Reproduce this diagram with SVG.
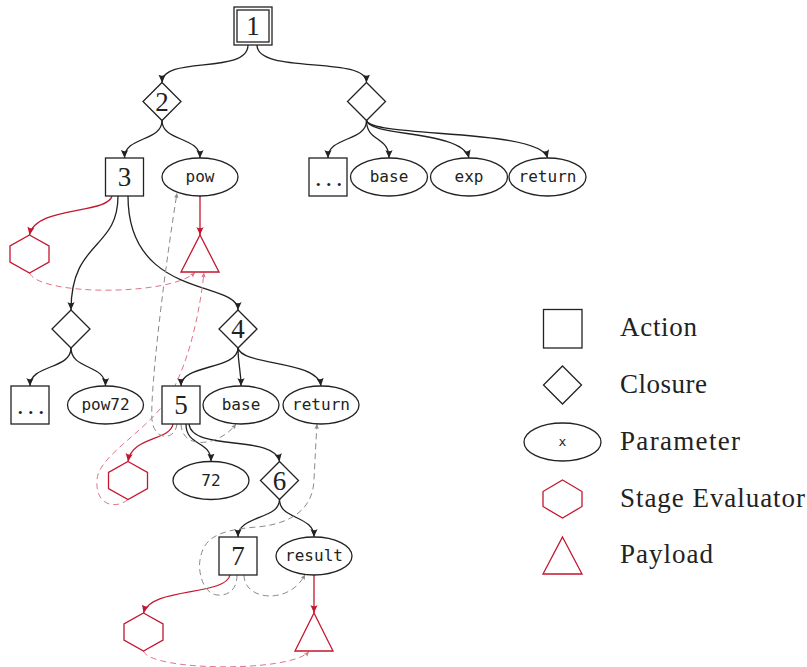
<svg xmlns="http://www.w3.org/2000/svg" width="807" height="667" viewBox="0 0 807 667">
<defs>
<style>
.nd{fill:#fff;stroke:#222;stroke-width:1.3}
.rd{fill:#fff;stroke:#c4162f;stroke-width:1.3}
.e{fill:none;stroke:#222;stroke-width:1.3}
.er{fill:none;stroke:#c4162f;stroke-width:1.3}
.dg{fill:none;stroke:#8a8a8a;stroke-width:1;stroke-dasharray:6 4}
.dr{fill:none;stroke:#e07585;stroke-width:1;stroke-dasharray:6 4}
.num{font-family:"Liberation Serif","DejaVu Serif",serif;font-size:27px;fill:#222;text-anchor:middle}
.dots{font-family:"Liberation Serif","DejaVu Serif",serif;font-size:26px;fill:#222;letter-spacing:4px}
.mono{font-family:"DejaVu Sans Mono","Liberation Mono",monospace;font-size:16px;fill:#222;text-anchor:middle}
.lg{font-family:"Liberation Serif","DejaVu Serif",serif;font-size:27px;fill:#222}
</style>
<marker id="ab" viewBox="0 0 10 10" refX="10" refY="5" markerWidth="8" markerHeight="8" markerUnits="userSpaceOnUse" orient="auto"><path d="M0,0.5 L10,5 L0,9.5 Q3,5 0,0.5 Z" fill="#222"/></marker>
<marker id="ar" viewBox="0 0 10 10" refX="10" refY="5" markerWidth="8" markerHeight="8" markerUnits="userSpaceOnUse" orient="auto"><path d="M0,0.5 L10,5 L0,9.5 Q3,5 0,0.5 Z" fill="#c4162f"/></marker>
<marker id="ag" viewBox="0 0 10 10" refX="10" refY="5" markerWidth="5" markerHeight="5" markerUnits="userSpaceOnUse" orient="auto"><path d="M0,0.5 L10,5 L0,9.5 Q3,5 0,0.5 Z" fill="#8a8a8a"/></marker>
<marker id="ap" viewBox="0 0 10 10" refX="10" refY="5" markerWidth="5" markerHeight="5" markerUnits="userSpaceOnUse" orient="auto"><path d="M0,0.5 L10,5 L0,9.5 Q3,5 0,0.5 Z" fill="#e07585"/></marker>
</defs>
<rect width="807" height="667" fill="#fff"/>

<g id="connectors">
<path class="e" marker-end="url(#ab)" d="M248,45 C248,75 162,55 162,82.5"/>
<path class="e" marker-end="url(#ab)" d="M257,45 C257,75 366.5,55 366.5,82.5"/>
<path class="e" marker-end="url(#ab)" d="M162,120.5 C162,142 124.5,136 124.5,158"/>
<path class="e" marker-end="url(#ab)" d="M162,120.5 C162,142 200,136 200,158"/>
<path class="e" marker-end="url(#ab)" d="M366.5,120.5 C366.5,142 328,136 328,158"/>
<path class="e" marker-end="url(#ab)" d="M366.5,120.5 C366.5,142 389,136 389,158"/>
<path class="e" marker-end="url(#ab)" d="M366.5,120.5 C370,137 462,130 469,158"/>
<path class="e" marker-end="url(#ab)" d="M366.5,120.5 C372,138 540,128 547.5,158"/>
<path class="e" marker-end="url(#ab)" d="M118,196 C118,250 71,240 71,310"/>
<path class="e" marker-end="url(#ab)" d="M128,196 C128,300 238,280 238,310"/>
<path class="er" marker-end="url(#ar)" d="M112,196 C108,214 35,206 29.5,235"/>
<path class="er" marker-end="url(#ar)" d="M200,196 L200,235"/>
<path class="e" marker-end="url(#ab)" d="M71,348 C71,370 30,364 30,386"/>
<path class="e" marker-end="url(#ab)" d="M71,348 C71,370 105.5,364 105.5,386"/>
<path class="e" marker-end="url(#ab)" d="M238,348 C238,370 181,364 181,386"/>
<path class="e" marker-end="url(#ab)" d="M238,348 C238,365 241,370 241,386"/>
<path class="e" marker-end="url(#ab)" d="M238,348 C242,366 318,360 321,386"/>
<path class="er" marker-end="url(#ar)" d="M173,424 C170,441 132,436 128,461.5"/>
<path class="e" marker-end="url(#ab)" d="M186,424 C186,447 211,440 211,461.5"/>
<path class="e" marker-end="url(#ab)" d="M189,424 C192,452 275,434 279.5,461.5"/>
<path class="e" marker-end="url(#ab)" d="M279.5,499.5 C279.5,520 238,515 238,537"/>
<path class="e" marker-end="url(#ab)" d="M279.5,499.5 C279.5,520 314,515 314,537"/>
<path class="er" marker-end="url(#ar)" d="M230,575 C226,596 150,587 143.5,613"/>
<path class="er" marker-end="url(#ar)" d="M314,575 L314,613"/>
<path class="dr" marker-end="url(#ap)" d="M29.5,273 C40,296 170,296 195,272.5"/>
<path class="dr" marker-end="url(#ap)" d="M128,499.5 C115,510 95,505 97,480 C98,455 150,430 170,395 C190,360 200,310 204,272.5"/>
<path class="dg" marker-end="url(#ag)" d="M177,424 C175,441 154,441 152,420 C150,400 160,300 177,193"/>
<path class="dg" marker-end="url(#ag)" d="M181,424 C182,451 220,446 236,424"/>
<path class="dg" marker-end="url(#ag)" d="M237,575 C237,590 228,596 217,595 C202,593 198,570 200,560 C203,540 215,530 257,527 C290,524 313,510 314,480 C315,460 316,440 317,424"/>
<path class="dg" marker-end="url(#ag)" d="M244,575 C244,601 290,605 305,574.5"/>
<path class="dr" marker-end="url(#ap)" d="M143.5,651 C150,671 290,673 309,651.5"/>
</g>

<g id="n1"><rect class="nd" x="234" y="7" width="38" height="38"/><rect class="nd" x="237" y="10" width="32" height="32"/><text class="num" x="253" y="35">1</text></g>
<g id="n2"><polygon class="nd" points="162,82.5 181,101.5 162,120.5 143,101.5"/><text class="num" x="162" y="110.5">2</text></g>
<g id="closureR"><polygon class="nd" points="366.5,82.5 385.5,101.5 366.5,120.5 347.5,101.5"/></g>
<g id="n3"><rect class="nd" x="105.5" y="158" width="38" height="38"/><text class="num" x="124.5" y="186">3</text></g>
<g id="pow"><ellipse class="nd" cx="200" cy="177" rx="38" ry="19"/><text class="mono" x="200" y="182">pow</text></g>
<g id="dotsR"><rect class="nd" x="309" y="158" width="38" height="38"/><text class="dots" x="315" y="186">...</text></g>
<g id="baseR"><ellipse class="nd" cx="389" cy="177" rx="38.5" ry="19"/><text class="mono" x="389" y="182">base</text></g>
<g id="expR"><ellipse class="nd" cx="469" cy="177" rx="38.5" ry="19"/><text class="mono" x="469" y="182">exp</text></g>
<g id="returnR"><ellipse class="nd" cx="547.5" cy="177" rx="38.5" ry="19"/><text class="mono" x="547.5" y="182">return</text></g>
<g id="evalL"><polygon class="rd" points="29.5,235 49,246 49,262 29.5,273 10,262 10,246"/></g>
<g id="payPow"><polygon class="rd" points="200,235 219,272 181,272"/></g>
<g id="closureL"><polygon class="nd" points="71,310 90,329 71,348 52,329"/></g>
<g id="n4"><polygon class="nd" points="238,310 257,329 238,348 219,329"/><text class="num" x="238" y="338">4</text></g>
<g id="dotsL"><rect class="nd" x="11" y="386" width="38" height="38"/><text class="dots" x="17" y="414">...</text></g>
<g id="pow72"><ellipse class="nd" cx="105.5" cy="405" rx="38" ry="19"/><text class="mono" x="105.5" y="410">pow72</text></g>
<g id="n5"><rect class="nd" x="162" y="386" width="38" height="38"/><text class="num" x="181" y="414">5</text></g>
<g id="base2"><ellipse class="nd" cx="241" cy="405" rx="38" ry="19"/><text class="mono" x="241" y="410">base</text></g>
<g id="return2"><ellipse class="nd" cx="321" cy="405" rx="38" ry="19"/><text class="mono" x="321" y="410">return</text></g>
<g id="eval5"><polygon class="rd" points="128,461.5 147.5,472.5 147.5,488.5 128,499.5 108.5,488.5 108.5,472.5"/></g>
<g id="p72"><ellipse class="nd" cx="211" cy="480.5" rx="38" ry="19"/><text class="mono" x="211" y="485.5">72</text></g>
<g id="n6"><polygon class="nd" points="279.5,461.5 298.5,480.5 279.5,499.5 260.5,480.5"/><text class="num" x="279.5" y="489.5">6</text></g>
<g id="n7"><rect class="nd" x="219" y="537" width="38" height="38"/><text class="num" x="238" y="565">7</text></g>
<g id="result"><ellipse class="nd" cx="314" cy="556" rx="38" ry="19"/><text class="mono" x="314" y="561">result</text></g>
<g id="eval7"><polygon class="rd" points="143.5,613 163,624 163,640 143.5,651 124,640 124,624"/></g>
<g id="pay7"><polygon class="rd" points="314,613 333,651 295,651"/></g>

<g id="legend">
<rect class="nd" x="543.5" y="309.5" width="38.5" height="38.5"/>
<text class="lg" x="620" y="336" textLength="77">Action</text>
<polygon class="nd" points="562.5,366 581.5,385 562.5,404 543.5,385"/>
<text class="lg" x="620" y="393" textLength="87">Closure</text>
<ellipse class="nd" cx="562.5" cy="442" rx="38.5" ry="19"/>
<text class="mono" x="562.5" y="446" style="font-size:13px">x</text>
<text class="lg" x="620" y="450" textLength="120">Parameter</text>
<polygon class="rd" points="562.5,480 582,491.5 582,506.5 562.5,518 543,506.5 543,491.5"/>
<text class="lg" x="620" y="507" textLength="185">Stage Evaluator</text>
<polygon class="rd" points="562.5,537 582,574 543,574"/>
<text class="lg" x="620" y="563" textLength="93">Payload</text>
</g>
</svg>
